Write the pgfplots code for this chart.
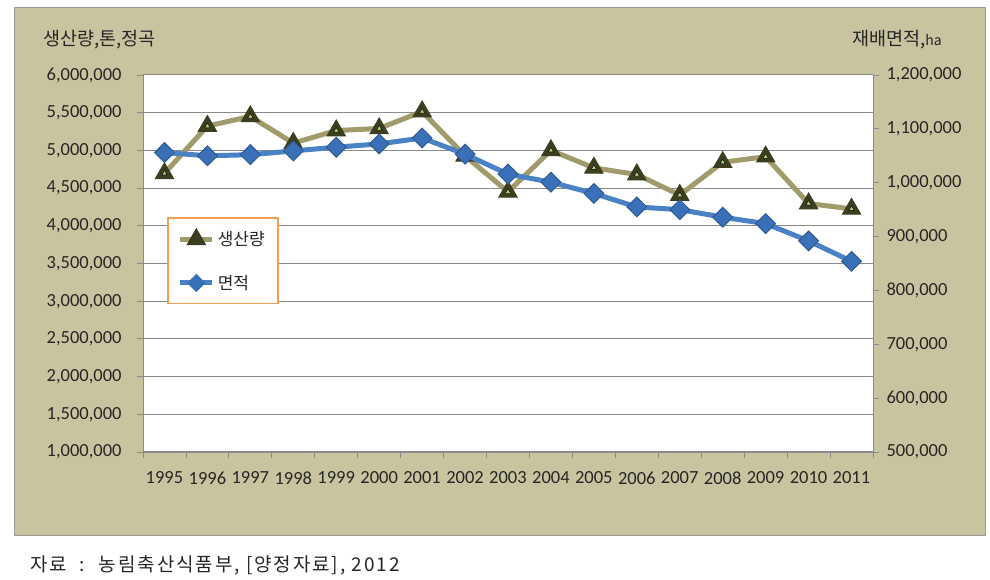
\documentclass[border=0pt]{standalone}
\usepackage{fontspec}
\usepackage{pgfplots}
\pgfplotsset{compat=1.18}
\setmainfont{Carlito}
\newfontfamily\kr{Noto Sans CJK KR}

\definecolor{framebg}{HTML}{C9C4A0}
\definecolor{prodline}{HTML}{A19B6C}
\definecolor{prodmark}{HTML}{3C3F1F}
\definecolor{prodinner}{HTML}{B9CB7E}
\definecolor{arealine}{HTML}{4A82C6}
\definecolor{areamark}{HTML}{3A70B8}
\definecolor{gridgray}{HTML}{8A8A8A}
\definecolor{legorange}{HTML}{F0A050}
\definecolor{txt}{HTML}{262626}

% production (ton, milled rice)
\pgfplotstableread{
year prod
1995 4695000
1996 5323000
1997 5450000
1998 5097000
1999 5263000
2000 5291000
2001 5515000
2002 4927000
2003 4451000
2004 5000000
2005 4768000
2006 4680000
2007 4408000
2008 4843000
2009 4916000
2010 4295000
2011 4224000
}\prodtab
% cultivated area (ha)
\pgfplotstableread{
year area
1995 1056000
1996 1050000
1997 1052000
1998 1059000
1999 1066000
2000 1072000
2001 1083000
2002 1053000
2003 1016000
2004 1001000
2005 980000
2006 955000
2007 950000
2008 936000
2009 924000
2010 892000
2011 854000
}\areatab

\pgfplotsset{
  base/.style={
    at={(143pt,128pt)}, anchor=south west,
    scale only axis, width=730pt, height=377pt,
    xmin=1994.5, xmax=2011.5,
    tick align=outside,
    major tick length=6pt, minor tick length=6pt,
    tick style={draw=gridgray, line width=0.8pt},
    ticklabel style={font=\fontsize{18.5}{18.5}\selectfont, text=txt},
    /pgf/number format/assume math mode=true,
    scaled y ticks=false,
    yticklabel style={/pgf/number format/fixed, /pgf/number format/1000 sep={,}},
    axis line style={draw=gridgray, line width=0.8pt},
  },
  legend image code/.code={
    \draw[mark repeat=2, mark phase=2, #1]
      plot coordinates {(0pt,0pt) (16pt,0pt) (32pt,0pt)};
  },
}

\begin{document}
\begin{tikzpicture}[x=1pt,y=1pt]
\path[use as bounding box] (0,0) rectangle (990,580);
\fill[framebg, draw=gray!80] (14,45) rectangle (985,573);

\begin{axis}[
  base,
  axis background/.style={fill=white},
  axis x line*=bottom, axis y line*=left,
  ymin=1000000, ymax=6000000,
  ytick={1000000,1500000,2000000,2500000,3000000,3500000,4000000,4500000,5000000,5500000,6000000},
  yticklabel style={xshift=-12pt},
  ymajorgrids, major grid style={draw=gridgray, line width=1pt},
  xtick={1995,...,2011},
  xticklabel style={/pgf/number format/1000 sep={}, yshift=-10pt},
  major x tick style={draw=none},
  minor xtick={1994.5,1995.5,...,2011.5},
  legend style={
    at={(rel axis cs:0.033,0.623)}, anchor=north west,
    draw=legorange, line width=1.5pt, fill=white,
    font=\kr\fontsize{17}{17}\selectfont, text=txt,
    inner xsep=10pt, inner ysep=11pt,
    row sep=24pt, minimum width=0pt,
    nodes={inner xsep=3pt},
  },
  legend cell align=left,
]
\addplot[prodline, line width=5pt, mark=triangle*, mark size=10.5pt,
  mark options={fill=prodmark, draw=prodmark, line width=1pt}]
  table[x=year, y=prod] {\prodtab};
\addlegendentry{생산량}
\addlegendimage{arealine, line width=5pt, mark=square*, mark size=6pt,
  mark options={fill=areamark, draw=areamark, rotate=45, line width=1pt}}
\addlegendentry{면적}
\addplot[only marks, mark=triangle*, mark size=3pt,
  mark options={fill=prodinner, draw=none}, forget plot]
  table[x=year, y=prod] {\prodtab};
\end{axis}

\begin{axis}[
  base,
  axis x line=none, axis y line*=right,
  ymin=500000, ymax=1200000,
  ytick={500000,600000,700000,800000,900000,1000000,1100000,1200000},
  yticklabel style={xshift=4pt},
]
\addplot[arealine, line width=5pt, mark=square*, mark size=7pt,
  mark options={fill=areamark, draw=areamark!80!black, rotate=45, line width=1pt}]
  table[x=year, y=area] {\areatab};
\end{axis}

\node[anchor=west, text=txt, font=\kr\fontsize{18.5}{18.5}\selectfont, inner sep=0pt]
  at (43,540) {생산량,톤,정곡};
\node[anchor=east, text=txt, font=\kr\fontsize{18.5}{18.5}\selectfont, inner sep=0pt]
  at (942,540) {재배면적,{\fontsize{14}{14}\selectfont ha}};
\node[anchor=west, text=txt, font=\kr\fontsize{19}{19}\selectfont\addfontfeature{LetterSpace=10}, inner sep=0pt]
  at (30,15) {자료 \ : \ 농림축산식품부, [양정자료], 2012};
\end{tikzpicture}
\end{document}
